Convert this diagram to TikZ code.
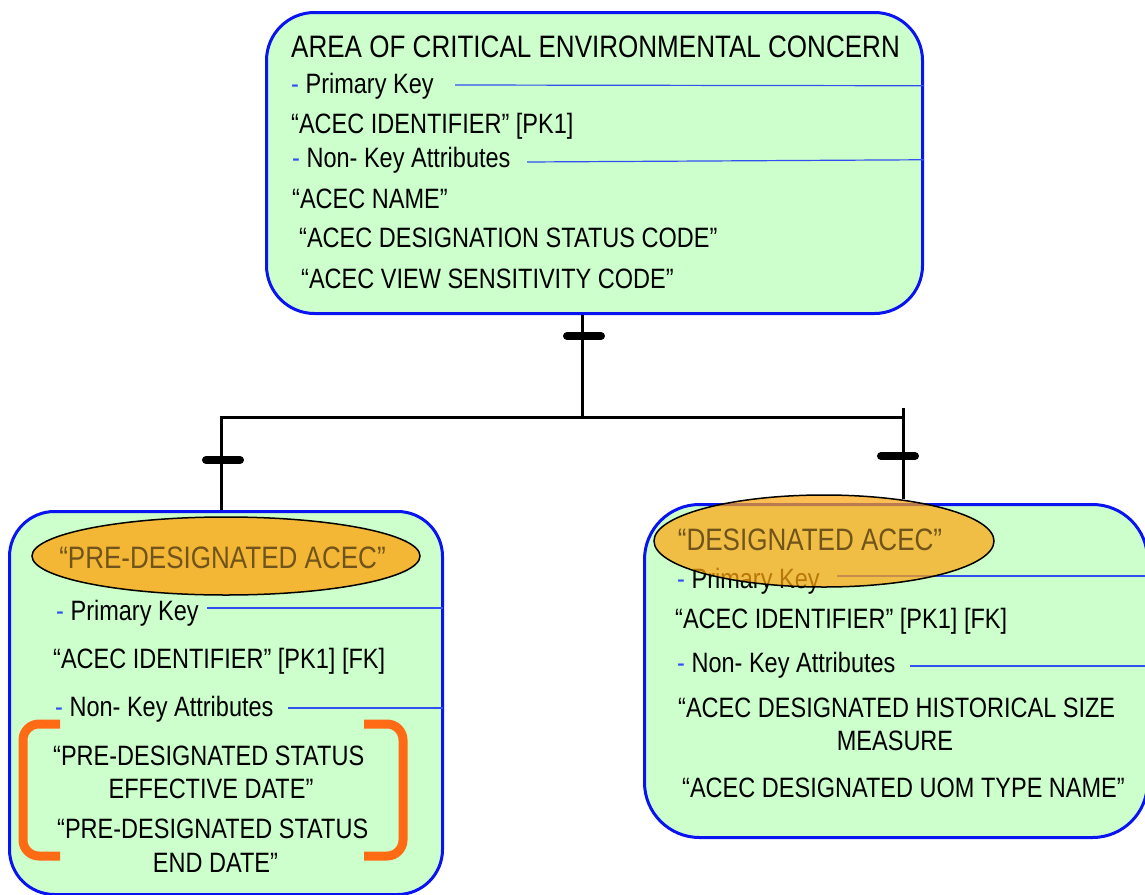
\documentclass[tikz,border=0pt]{standalone}
\usepackage{fontspec}
\setmainfont{Liberation Sans}[FakeStretch=0.84]
\usetikzlibrary{shapes.geometric}
\definecolor{boxgreen}{HTML}{CCFFCC}
\definecolor{boxblue}{HTML}{0A14F0}
\definecolor{keyblue}{HTML}{3050F0}
\definecolor{ovalfill}{HTML}{FFA510}
\definecolor{ovaltext}{HTML}{70541C}
\definecolor{bracketorange}{HTML}{FF6A14}
\newcommand{\keydash}{{\color{keyblue}-}}
\begin{document}
\begin{tikzpicture}[x=1pt,y=-1pt,
  entity/.style={draw=boxblue, line width=3pt, fill=boxgreen, rounded corners=48pt,
    inner sep=0pt, anchor=north west},
  body/.style={inner sep=0pt, font=\fontsize{28}{32}\selectfont},
  lefttext/.style={body, anchor=base west},
  midtext/.style={body, anchor=base},
  titletext/.style={inner sep=0pt, anchor=base west, font=\fontsize{31}{35}\selectfont},
  ovallabel/.style={inner sep=0pt, anchor=base, text=ovaltext, font=\fontsize{31}{35}\selectfont},
  oval/.style={ellipse, draw=black, line width=1.5pt, fill=ovalfill, fill opacity=0.8, inner sep=0pt},
  keyline/.style={draw=keyblue, line width=1.2pt},
  link/.style={draw=black, line width=3pt},
  tickmark/.style={draw=black, line width=8pt, line cap=round},
  bracket/.style={draw=bracketorange, line width=9pt, rounded corners=16pt}]

\useasboundingbox (0,0) rectangle (1145,894);

% ---------- parent entity ----------
\node[entity, minimum width=656pt, minimum height=301pt] (acec) at (265,11) {};
\node[titletext] (acectitle) at (291,57) {AREA OF CRITICAL ENVIRONMENTAL CONCERN};
\node[lefttext] (acecpk) at (291,93) {\keydash{} Primary Key};
\node[lefttext] (acecid) at (291,133) {“ACEC IDENTIFIER” [PK1]};
\node[lefttext] (acecnk) at (292,167) {\keydash{} Non- Key Attributes};
\node[lefttext] (acecname) at (292,208) {“ACEC NAME”};
\node[lefttext] (acecdsc) at (299,247) {“ACEC DESIGNATION STATUS CODE”};
\node[lefttext] (acecvsc) at (301,288) {“ACEC VIEW SENSITIVITY CODE”};
\draw[keyline] (455,85) -- (acecpk.east -| acec.east);
\draw[keyline] (527,162) -- (acecnk.east -| acec.east);

% ---------- pre-designated subtype ----------
\node[entity, minimum width=433pt, minimum height=383pt, rounded corners=45pt] (pre) at (8,510) {};
\node[oval, minimum width=388pt, minimum height=78pt] (preoval) at (226,556) {};
\node[ovallabel] (prelabel) at (222.5,568) {“PRE-DESIGNATED ACEC”};
\node[lefttext] (prepk) at (56,620) {\keydash{} Primary Key};
\node[lefttext] (preid) at (53,668) {“ACEC IDENTIFIER” [PK1] [FK]};
\node[lefttext] (prenk) at (55,716) {\keydash{} Non- Key Attributes};
\node[lefttext] (preeff1) at (53,765) {“PRE-DESIGNATED STATUS};
\node[midtext] (preeff2) at (211,798) {EFFECTIVE DATE”};
\node[lefttext] (preend1) at (57,838) {“PRE-DESIGNATED STATUS};
\node[midtext] (preend2) at (215.5,872) {END DATE”};
\draw[keyline] (207,608) -- (443,608);
\draw[keyline] (288,708) -- (443,708);
\draw[bracket] (60,724) -- (23,724) -- (23,856) -- (60,856);
\draw[bracket] (364,724) -- (403,724) -- (403,856) -- (364,856);

% ---------- designated subtype ----------
\node[entity, minimum width=503pt, minimum height=333pt, rounded corners=55pt] (des) at (643,503) {};
\node[lefttext] (despk) at (677,588) {\keydash{} Primary Key};
\draw[keyline] (837,576) -- (1146,576);
\node[oval, minimum width=340pt, minimum height=92pt, fill opacity=0.72] (desoval) at (824,541) {};
\node[ovallabel] (deslabel) at (810,550) {“DESIGNATED ACEC”};
\node[lefttext] (desid) at (675,628) {“ACEC IDENTIFIER” [PK1] [FK]};
\node[lefttext] (desnk) at (677,672) {\keydash{} Non- Key Attributes};
\draw[keyline] (910,666) -- (1146,666);
\node[lefttext] (deshist) at (678,717) {“ACEC DESIGNATED HISTORICAL SIZE};
\node[midtext] (desmeas) at (895,750) {MEASURE};
\node[lefttext] (desuom) at (682,797) {“ACEC DESIGNATED UOM TYPE NAME”};

% ---------- subtype relationship ----------
\coordinate (hub) at (582,417);
\coordinate (hubleft) at (220,417);
\coordinate (hubright) at (903,417);
\coordinate (preleg) at (221,417);
\coordinate (rightstub) at (903,408);
\draw[link] (acec.south -| hub) -- (hub);
\draw[link] (hubleft) -- (hubright);
\draw[link] (preleg) -- (pre.north -| preleg);
\draw[link] (rightstub) -- (desoval.28 -| rightstub);
\coordinate (tickparent) at (584,336);
\coordinate (tickpre) at (223,460);
\coordinate (tickdes) at (898,456);
\draw[tickmark] ([xshift=-17pt]tickparent) -- ([xshift=17pt]tickparent);
\draw[tickmark] ([xshift=-17pt]tickpre) -- ([xshift=17pt]tickpre);
\draw[tickmark] ([xshift=-17pt]tickdes) -- ([xshift=17pt]tickdes);
\end{tikzpicture}
\end{document}
